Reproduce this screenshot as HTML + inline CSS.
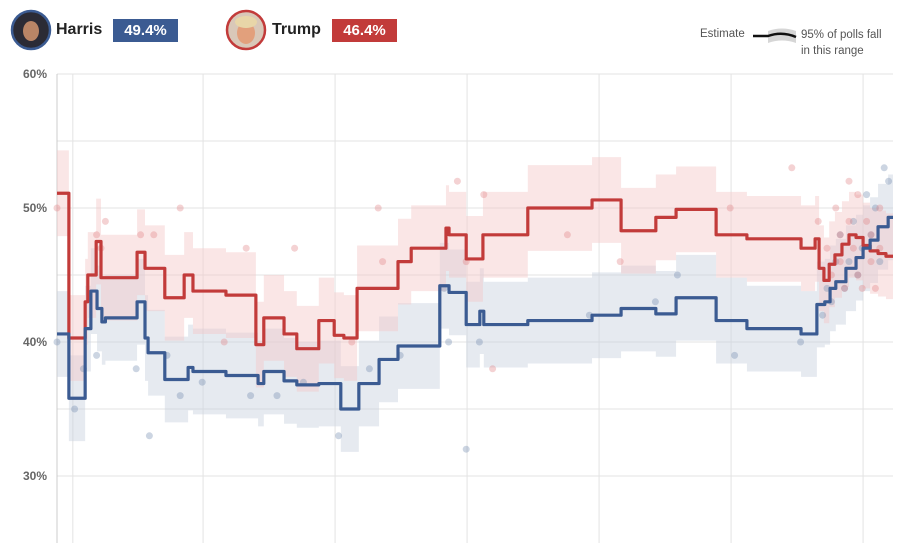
<!DOCTYPE html>
<html><head><meta charset="utf-8"><style>
body{margin:0;background:#fff;font-family:"Liberation Sans",sans-serif}
#wrap{position:relative;width:902px;height:549px;overflow:hidden}
.name{position:absolute;top:21px;font-weight:bold;font-size:16px;color:#222}
.badge{position:absolute;top:19px;height:23px;width:65px;color:#fff;font-weight:bold;font-size:15px;text-align:center;line-height:23px}
.legend{position:absolute;font-size:11.5px;color:#555}
</style></head><body>
<div id="wrap">
<svg width="902" height="549" style="position:absolute;left:0;top:0" id="svg">
 <g><circle cx="31" cy="30" r="19" fill="#2b2b35" stroke="#3b5b92" stroke-width="2.5"/><ellipse cx="31" cy="31" rx="8" ry="10" fill="#b98566"/></g>
 <g><circle cx="246" cy="30" r="19" fill="#d9c8b8" stroke="#c23b3a" stroke-width="2.5"/><ellipse cx="246" cy="33" rx="9" ry="11" fill="#e2a07c"/><ellipse cx="246" cy="22" rx="11" ry="6" fill="#e8d6a8"/></g>
</svg>
<div class="name" style="left:56px">Harris</div>
<div class="badge" style="left:113px;background:#3b5b92">49.4%</div>
<div class="name" style="left:272px">Trump</div>
<div class="badge" style="left:332px;background:#c23b3a">46.4%</div>
<div class="legend" style="left:700px;top:28px">Estimate</div>
<div class="legend" style="left:801px;top:27px;line-height:16px">95% of polls fall<br>in this range</div>
</div>
<script>
const yTicks=[30,40,50,60];
const gridPct=[30,35,40,45,50,55,60];
const vDays=[3.6,33.2,63.2,93.2,123.2,153.2,183.2];
const trumpDays=[0,2.7,6.4,7,8.9,10,18.2,20,24.5,28.9,30.9,38.4,45.2,47,51.6,54.5,59.5,63,65.2,68.2,77.5,80.5,88.4,89.1,93,96.8,107,121.6,128.2,136.1,140.7,149.8,156.8,169.1,172.3,173.2,174.3,175.5,176.8,178.4,180,181.6,183.2,184.8,186.6,188.4];
const trumpVals=[51.1,40.3,43,45,47.5,44.8,46.7,45.5,43.3,45,43.8,43.5,39.8,41.8,40.6,39.5,41.6,40.5,40.3,44,46,47,48.5,48,46.2,48,50,50.6,48.3,49.3,49.9,48,47.7,47,47.7,45.5,44.6,45.8,46.5,47.3,48,47.8,47.2,46.8,46.6,46.4];
const harrisDays=[0,2.7,6.4,7.7,9.1,10.2,11,18.2,20,20.7,24.5,29.8,30.9,38.4,45.7,47,51.6,54.5,59.5,64.5,68.6,73.2,77.5,87,89.1,93,96.1,97,107,121.6,128.2,136.1,140.7,149.8,156.8,169.1,172.7,174.5,175.7,177,179.3,181.6,183.2,184.8,186.6,188.9];
const harrisVals=[40.6,35.8,41,43.8,42.5,41.5,41.8,43,40.3,39.2,37.2,38.1,37.8,37.5,36.9,37.8,37.1,36.8,36.9,35,36.9,38.7,39.7,44.2,43.7,41.3,42.3,41.3,41.6,42,42.5,42.1,43.3,41.6,41,40.6,42.8,43,44,44.5,45.5,46.3,47,47.6,48.6,49.3];
const bandHalf=[3.2];
const trumpPollDays=[0,9,11,10,19,22,28,38,43,54,67,73,74,91,93,97,99,116,128,153,167,173,175,176,177,178,178,179,180,180,181,182,182,183,184,185,185,186,187,187];
const trumpPollVals=[50,48,49,47,48,48,50,40,47,47,40,50,46,52,46,51,38,48,46,50,53,49,47,45,50,48,46,44,52,49,47,45,51,44,49,48,46,44,50,47];
const harrisPollDays=[0,4,6,9,18,21,25,28,33,44,50,56,64,71,78,88,89,93,96,121,136,141,154,169,174,175,176,177,178,179,180,181,182,183,184,185,186,187,188,189];
const harrisPollVals=[40,35,38,39,38,33,39,36,37,36,36,37,33,38,39,44,40,32,40,42,43,45,39,40,42,44,43,46,48,44,46,49,45,47,51,48,50,46,53,52];
const svg=document.getElementById('svg');const NS='http://www.w3.org/2000/svg';
const X0=57,X1=893,D1=190;
function x(d){return X0+d*(X1-X0)/D1}
function y(v){return 208+(50-v)*13.4}
function el(t,a){const e=document.createElementNS(NS,t);for(const k in a)e.setAttribute(k,a[k]);svg.appendChild(e);return e}
gridPct.forEach(p=>{const l=el('line',{x1:X0,x2:X1,y1:y(p),y2:y(p),stroke:'#e3e3e3','stroke-width':1});

});
vDays.forEach(d=>{const l=el('line',{x1:x(d),x2:x(d),y1:y(60),y2:543,stroke:'#e3e3e3','stroke-width':1});

});
const ax=el('line',{x1:X0,x2:X0,y1:y(60),y2:543,stroke:'#ccc'});


yTicks.forEach(p=>{const t=el('text',{x:47,y:y(p)+4,'text-anchor':'end','font-size':12,'font-weight':'bold',fill:'#666','font-family':'Liberation Sans'});t.textContent=p+'%';

});
function stepPts(days,vals,off){const pts=[];for(let i=0;i<days.length;i++){const n=i+1<days.length?days[i+1]:D1;pts.push([x(days[i]),y(vals[i]+off)],[x(n),y(vals[i]+off)]);}return pts}
function band(days,vals,color,name){const up=stepPts(days,vals,bandHalf[0]),lo=stepPts(days,vals,-bandHalf[0]).reverse();
const p=el('path',{d:'M'+up.concat(lo).map(q=>q.join(',')).join('L')+'Z',fill:color,opacity:0.45});

}
band(harrisDays,harrisVals,'#c7d0de','harris-band');
band(trumpDays,trumpVals,'#f3c7c7','trump-band');
function dots(days,vals,color,name){days.forEach((d,i)=>{const c=el('circle',{cx:x(d),cy:y(vals[i]),r:3.5,fill:color,opacity:0.35});

});}
dots(harrisPollDays,harrisPollVals,'#6d86ad','harris-poll');
dots(trumpPollDays,trumpPollVals,'#e07f80','trump-poll');
function line(days,vals,color,name){const pts=stepPts(days,vals,0);
const p=el('path',{d:'M'+pts.map(q=>q.join(',')).join('L'),fill:'none',stroke:color,'stroke-width':3.2,'stroke-linejoin':'round'});

}
line(trumpDays,trumpVals,'#c23b3a','trump-line');
line(harrisDays,harrisVals,'#3b5b92','harris-line');
const lb=el('path',{d:'M768,31 Q782,26 796,31 L796,43 Q782,38 768,43Z',fill:'#ccc',opacity:0.8});


const lg=el('path',{d:'M753,36 L768,36 Q782,31 796,37',fill:'none',stroke:'#111','stroke-width':2.5});


</script>
</body></html>
